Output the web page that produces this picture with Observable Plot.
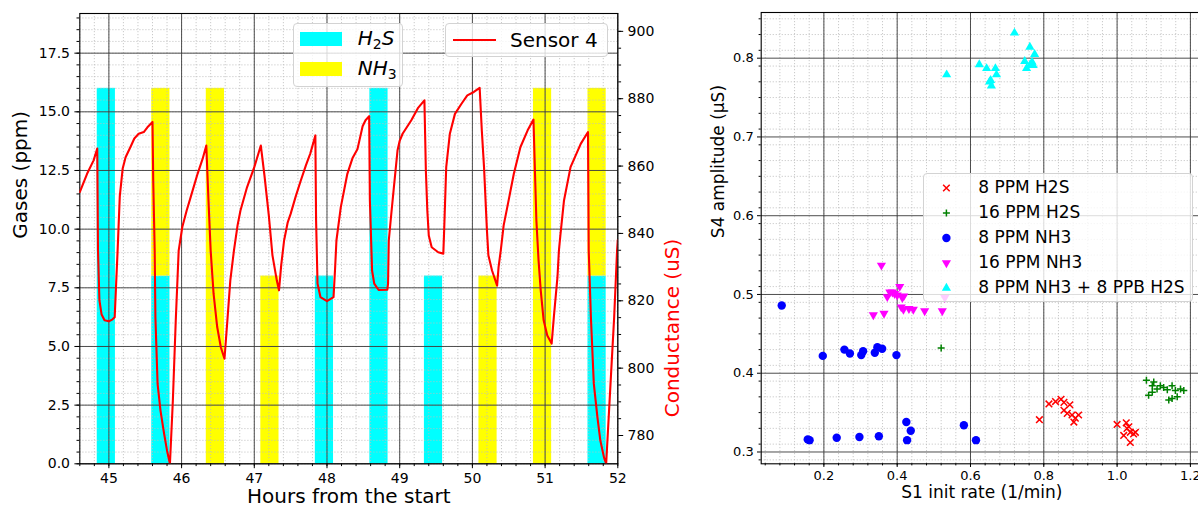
<!DOCTYPE html>
<html><head><meta charset="utf-8">
<script src="https://cdn.jsdelivr.net/npm/d3@7"></script>
<script src="https://cdn.jsdelivr.net/npm/@observablehq/plot@0.6"></script>
<style>
body{margin:0;background:#fff;font-family:"DejaVu Sans",sans-serif;}
#root{position:relative;width:1198px;height:512px;overflow:hidden;background:#fff;}
.layer{position:absolute;top:0;}
.layer svg{max-width:none !important;}
.legend{position:absolute;background:rgba(255,255,255,0.8);border:1px solid #d3d3d3;border-radius:4px;box-sizing:border-box;}
.lgtext{position:absolute;white-space:nowrap;color:#000;}
.sw{position:absolute;}
</style></head><body><div id="root"></div>
<script>
// ---------- Left panel data ----------
const exposureStart = [44.84, 45.59, 46.34, 47.09, 47.84, 48.59, 49.34, 50.09, 50.84, 51.59];
const exposureLength = 0.25;
const h2sPpm = [16, 8, 0, 0, 8, 16, 8, 0, 0, 8];
const nh3Ppm = [0, 8, 16, 8, 0, 0, 0, 8, 16, 8];

const sensorHours = [44.60,44.70,44.79,44.84,44.85,44.87,44.90,44.94,45.00,45.05,45.08,45.10,45.12,45.15,45.19,45.23,45.30,45.35,45.41,45.48,45.53,45.60,
  45.61,45.63,45.64,45.67,45.71,45.76,45.80,45.84,45.88,45.92,45.96,46.01,46.07,46.12,46.22,46.29,46.34,
  46.37,46.40,46.44,46.49,46.54,46.59,46.63,46.67,46.72,46.77,46.81,46.90,47.00,47.09,
  47.14,47.20,47.25,47.31,47.34,47.37,47.41,47.46,47.50,47.57,47.64,47.71,47.77,47.84,
  47.85,47.87,47.91,48.00,48.09,48.11,48.13,48.19,48.28,48.35,48.42,48.49,48.53,48.58,
  48.59,48.62,48.65,48.71,48.83,48.84,48.85,48.88,48.92,48.97,49.00,49.04,49.16,49.25,49.34,
  49.36,49.38,49.40,49.44,49.53,49.60,49.61,49.64,49.69,49.76,49.85,49.93,50.02,50.10,
  50.13,50.16,50.20,50.22,50.27,50.34,50.36,50.39,50.43,50.48,50.57,50.66,50.76,50.84,
  50.86,50.88,50.91,50.94,50.98,51.03,51.09,51.12,51.17,51.19,51.21,51.26,51.35,51.49,51.59,
  51.60,51.63,51.67,51.72,51.76,51.81,51.84,51.90,51.95,51.99,52.00];
const sensorCond = [852.3,857.7,861.7,865.2,834.9,820.1,815.9,814.2,813.9,814.5,815.1,825.1,834.9,851.0,859.3,862.6,865.8,868.2,869.6,870.1,871.5,873.1,
  855.7,834.9,815.1,795.3,787.4,780.5,775.5,771.6,790.4,814.2,834.9,841.9,846.8,850.4,857.7,862.2,866.1,
  849.8,834.9,822.1,812.2,806.2,802.8,814.2,826.0,834.9,842.4,846.8,853.7,859.7,866.1,
  857.2,845.3,833.5,826.0,823.1,830.5,837.9,843.3,845.8,851.0,855.7,860.2,863.7,869.1,
  843.9,825.1,821.1,819.9,821.1,829.0,837.9,847.8,857.7,862.3,865.1,871.8,873.6,874.8,
  849.8,829.0,825.1,823.2,823.3,825.1,837.9,844.8,853.7,864.6,867.5,869.6,873.6,877.2,879.5,
  858.7,846.8,839.4,835.9,834.4,834.0,839.9,859.7,869.6,875.5,878.5,881.0,882.0,883.2,
  870.4,859.7,840.9,833.5,829.0,824.5,830.0,834.9,842.4,847.8,857.7,865.6,870.6,873.8,
  858.7,843.9,832.0,823.1,814.2,809.7,807.3,815.1,827.0,834.9,839.4,849.8,859.7,866.6,870.1,
  834.9,815.1,795.4,785.4,778.5,773.5,771.6,795.4,815.1,834.9,838.0];

const hourTicks = [45, 46, 47, 48, 49, 50, 51, 52];
const ppmTicks = [0, 2.5, 5, 7.5, 10, 12.5, 15, 17.5];
const condTicks = [780, 800, 820, 840, 860, 880, 900];

// ---------- Right panel data ----------
const h2s8Rate = [0.788,0.814,0.832,0.847,0.855,0.871,0.855,0.864,0.877,0.895,0.882,0.886,1.000,1.025,1.027,1.036,1.045,1.018,1.036,1.032,1.050];
const h2s8Amp  = [0.341,0.361,0.364,0.367,0.363,0.360,0.353,0.349,0.347,0.347,0.338,0.343,0.335,0.337,0.330,0.325,0.323,0.321,0.312,0.332,0.325];
const h2s16Rate = [0.520,1.080,1.100,1.096,1.109,1.118,1.127,1.150,1.159,1.173,1.182,1.086,1.096,1.141,1.150,1.164,1.137];
const h2s16Amp  = [0.432,0.391,0.389,0.384,0.380,0.384,0.382,0.384,0.378,0.380,0.378,0.372,0.376,0.366,0.368,0.370,0.379];
const nh38Rate = [0.085,0.197,0.256,0.271,0.302,0.307,0.339,0.346,0.359,0.398,0.156,0.161,0.235,0.297,0.350,0.425,0.437,0.427,0.582,0.615];
const nh38Amp  = [0.486,0.422,0.430,0.425,0.423,0.428,0.426,0.433,0.431,0.423,0.316,0.315,0.318,0.319,0.320,0.338,0.327,0.315,0.334,0.315];
const nh316Rate = [0.357,0.335,0.364,0.373,0.380,0.387,0.393,0.407,0.400,0.414,0.418,0.411,0.417,0.432,0.444,0.475,0.523,0.530];
const nh316Amp  = [0.537,0.474,0.476,0.497,0.503,0.503,0.501,0.510,0.499,0.496,0.498,0.484,0.481,0.482,0.481,0.479,0.479,0.496];
const mixRate = [0.535,0.624,0.644,0.668,0.671,0.655,0.657,0.652,0.720,0.762,0.775,0.748,0.753,0.768,0.771,0.762];
const mixAmp  = [0.779,0.792,0.787,0.787,0.779,0.772,0.765,0.770,0.832,0.814,0.805,0.796,0.787,0.795,0.791,0.791];

const rateTicks = [0.2, 0.4, 0.6, 0.8, 1.0, 1.2];
const ampTicks = [0.3, 0.4, 0.5, 0.6, 0.7, 0.8];

const seriesNames = ["8 PPM H2S", "16 PPM H2S", "8 PPM NH3", "16 PPM NH3", "8 PPM NH3 + 8 PPB H2S"];
const seriesColors = ["red", "green", "blue", "magenta", "cyan"];

// ---------- build tables ----------
const h2sRows = exposureStart.map((s, i) => ({x1: s, x2: s + exposureLength, y1: 0, y2: h2sPpm[i]})).filter(d => d.y2 > 0);
const nh3Rows = exposureStart.map((s, i) => ({x1: s, x2: s + exposureLength, y1: h2sPpm[i], y2: h2sPpm[i] + nh3Ppm[i], v: nh3Ppm[i]})).filter(d => d.v > 0);
const sensor = sensorHours.map((h, i) => ({h, c: sensorCond[i]}));
const zip = (a, b) => a.map((v, i) => ({x: v, y: b[i]}));

const hourMinor = d3.range(44.6, 52.01, 0.2);
const ppmMinor = d3.range(0, 19.2, 0.5);
const condMinor = d3.range(775, 905, 5);
const rateMinor = d3.range(0.04, 1.24, 0.04);
const ampMinor = d3.range(0.29, 0.86, 0.02);

const minorGrid = {stroke: "#bdbdbd", strokeWidth: 0.8, strokeDasharray: "1.2,1.8"};
const majorGrid = {stroke: "#3a3a3a", strokeWidth: 0.9};
const baseStyle = {fontFamily: "DejaVu Sans", background: "transparent", overflow: "visible", color: "#000", maxWidth: "none"};

const W1 = 700, M1 = {marginLeft: 79.3, marginRight: W1 - 617.3, marginTop: 13, marginBottom: 512 - 463.3};
const xDom1 = [44.6, 52];

const gasPlot = Plot.plot({
  width: W1, height: 512, ...M1,
  x: {domain: xDom1}, y: {domain: [0, 19.19]},
  style: baseStyle,
  marks: [
    Plot.rect(h2sRows, {x1: "x1", x2: "x2", y1: "y1", y2: "y2", fill: "cyan"}),
    Plot.rect(nh3Rows, {x1: "x1", x2: "x2", y1: "y1", y2: "y2", fill: "yellow"}),
    Plot.ruleX(hourMinor, minorGrid),
    Plot.ruleY(ppmMinor, minorGrid),
    Plot.ruleX(hourTicks, majorGrid),
    Plot.ruleY(ppmTicks, majorGrid),
    Plot.frame({stroke: "#000", strokeWidth: 1.1}),
    Plot.axisX({ticks: hourTicks, tickSize: 4.9, tickPadding: 4, fontSize: 14, label: null, tickFormat: d => String(d)}),
    Plot.axisX({ticks: hourMinor, tickSize: 2.8, fontSize: 1, label: null, tickFormat: () => ""}),
    Plot.axisY({ticks: ppmTicks, tickSize: 4.9, tickPadding: 4.9, fontSize: 14, label: null, tickFormat: d => d.toFixed(1)}),
    Plot.axisY({ticks: ppmMinor, tickSize: 2.8, fontSize: 1, label: null, tickFormat: () => ""}),
    Plot.text(["Hours from the start"], {frameAnchor: "bottom", dy: 39, fontSize: 20, text: d => d}),
    Plot.text(["Gases (ppm)"], {frameAnchor: "left", rotate: -90, dx: -59, fontSize: 20, text: d => d})
  ]
});

const condPlot = Plot.plot({
  width: W1, height: 512, ...M1,
  x: {domain: xDom1, axis: null}, y: {domain: [771.6, 905.3]},
  style: baseStyle,
  marks: [
    Plot.line(sensor, {x: "h", y: "c", stroke: "red", strokeWidth: 2.1, clip: true}),
    Plot.axisY({anchor: "right", ticks: condTicks, tickSize: 4.9, tickPadding: 4.9, fontSize: 14, label: null, tickFormat: d => String(d)}),
    Plot.axisY({anchor: "right", ticks: condMinor, tickSize: 2.8, fontSize: 1, label: null, tickFormat: () => ""}),
    Plot.text(["Conductance (uS)"], {frameAnchor: "right", rotate: -90, dx: 55, fontSize: 20, fill: "red", text: d => d})
  ]
});

const scatterPlot = Plot.plot({
  width: 512, height: 512,
  marginLeft: 70.7, marginRight: 0, marginTop: 12, marginBottom: 512 - 463.3,
  x: {domain: [0.029, 1.233]}, y: {domain: [0.285, 0.858]},
  style: baseStyle,
  marks: [
    Plot.ruleX(rateMinor, minorGrid),
    Plot.ruleY(ampMinor, minorGrid),
    Plot.ruleX(rateTicks, majorGrid),
    Plot.ruleY(ampTicks, majorGrid),
    Plot.dot(zip(h2s8Rate, h2s8Amp), {x: "x", y: "y", symbol: "times", stroke: "red", r: 3.1, strokeWidth: 1.5}),
    Plot.dot(zip(h2s16Rate, h2s16Amp), {x: "x", y: "y", symbol: "plus", stroke: "green", r: 2.4, strokeWidth: 1.5}),
    Plot.dot(zip(nh38Rate, nh38Amp), {x: "x", y: "y", symbol: "circle", fill: "blue", r: 4.2}),
    Plot.dot(zip(nh316Rate, nh316Amp), {x: "x", y: "y", symbol: "triangle", fill: "magenta", r: 3.4, rotate: 180}),
    Plot.dot(zip(mixRate, mixAmp), {x: "x", y: "y", symbol: "triangle", fill: "cyan", r: 3.4}),
    Plot.frame({stroke: "#000", strokeWidth: 1.1}),
    Plot.axisX({ticks: rateTicks, tickSize: 3.7, tickPadding: 3.5, fontSize: 13, label: null, tickFormat: d => d.toFixed(1)}),
    Plot.axisX({ticks: rateMinor, tickSize: 2.1, fontSize: 1, label: null, tickFormat: () => ""}),
    Plot.axisY({ticks: ampTicks, tickSize: 3.7, tickPadding: 3.7, fontSize: 13, label: null, tickFormat: d => d.toFixed(1)}),
    Plot.axisY({ticks: ampMinor, tickSize: 2.1, fontSize: 1, label: null, tickFormat: () => ""}),
    Plot.text(["S1 init rate (1/min)"], {frameAnchor: "bottom", dy: 34, fontSize: 17, text: d => d}),
    Plot.text(["S4 amplitude (\u03bcS)"], {frameAnchor: "left", rotate: -90, dx: -42.7, fontSize: 17, text: d => d})
  ]
});

const root = document.getElementById("root");
function place(node, left) { const d = document.createElement("div"); d.className = "layer"; d.style.left = left + "px"; d.appendChild(node); root.appendChild(d); }
place(gasPlot, 0);
place(condPlot, 0);
place(scatterPlot, 690);

// ---------- legends ----------
function box(left, top, w, h) { const b = document.createElement("div"); b.className = "legend"; Object.assign(b.style, {left: left + "px", top: top + "px", width: w + "px", height: h + "px"}); root.appendChild(b); return b; }
function label(parent, html, left, cy, size) { const t = document.createElement("div"); t.className = "lgtext"; t.innerHTML = html; Object.assign(t.style, {left: left + "px", top: (cy - size * 0.62) + "px", fontSize: size + "px", lineHeight: (size * 1.24) + "px"}); parent.appendChild(t); }
function swatch(parent, left, top, w, h, color) { const s = document.createElement("div"); s.className = "sw"; Object.assign(s.style, {left: left + "px", top: top + "px", width: w + "px", height: h + "px", background: color}); parent.appendChild(s); }

const gasNames = ["<i>H</i><sub style='font-size:14px;vertical-align:-4px'>2</sub><i>S</i>", "<i>NH</i><sub style='font-size:14px;vertical-align:-4px'>3</sub>"];
const gasColors = ["cyan", "yellow"];
const lg1 = box(292.7, 22.7, 110.6, 64.6);
gasColors.forEach((c, i) => { swatch(lg1, 6.3, 8 + i * 30, 41.7, 14, c); label(lg1, gasNames[i], 64, 14.5 + i * 30, 20); });

const lg2 = box(445, 22.7, 162.7, 34.6);
swatch(lg2, 6.7, 15.2, 43.3, 2.2, "red");
label(lg2, "Sensor 4", 64, 16.3, 20);

const lg3 = box(923.3, 172.7, 270, 129);
const ns = "http://www.w3.org/2000/svg";
const sv = document.createElementNS(ns, "svg");
sv.setAttribute("width", 270); sv.setAttribute("height", 129);
sv.style.position = "absolute"; sv.style.left = "-1px"; sv.style.top = "-1px";
lg3.appendChild(sv);
const symTypes = [d3.symbolTimes, d3.symbolPlus, d3.symbolCircle, d3.symbolTriangle, d3.symbolTriangle];
const symSizes = [Math.PI * 3.1 * 3.1, Math.PI * 2.4 * 2.4, Math.PI * 4.2 * 4.2, Math.PI * 3.4 * 3.4, Math.PI * 3.4 * 3.4];
seriesNames.forEach((n, i) => {
  const cy = 15 + i * 25;
  const p = document.createElementNS(ns, "path");
  p.setAttribute("d", d3.symbol(symTypes[i], symSizes[i])());
  p.setAttribute("transform", `translate(23.4,${cy})` + (i === 3 ? " rotate(180)" : ""));
  if (i < 2) { p.setAttribute("fill", "none"); p.setAttribute("stroke", seriesColors[i]); p.setAttribute("stroke-width", 1.5); }
  else p.setAttribute("fill", seriesColors[i]);
  sv.appendChild(p);
  label(lg3, n, 54, cy - 1, 17);
});
</script>
</body></html>
